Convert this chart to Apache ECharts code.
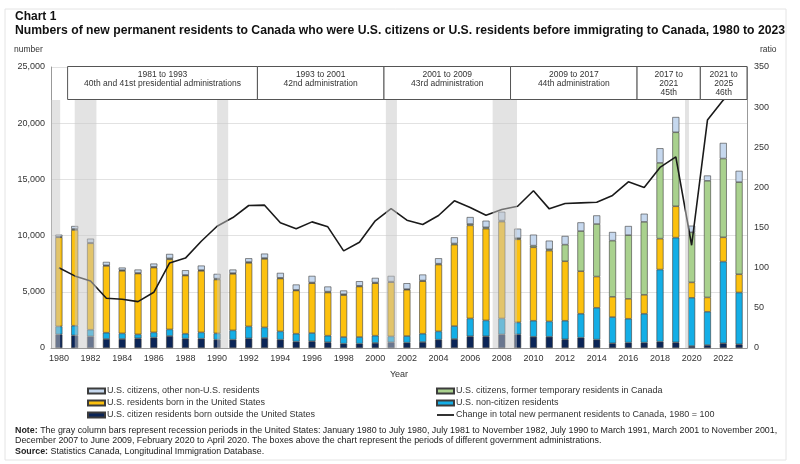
<!DOCTYPE html>
<html><head><meta charset="utf-8">
<script src="https://cdn.jsdelivr.net/npm/echarts@6/dist/echarts.min.js"></script>
<style>html,body{margin:0;padding:0;background:#fff}#c{width:800px;height:464px}</style>
</head><body><div id="c"></div>
<script>
var years = ['1980','1981','1982','1983','1984','1985','1986','1987','1988','1989','1990','1991','1992','1993','1994','1995','1996','1997','1998','1999','2000','2001','2002','2003','2004','2005','2006','2007','2008','2009','2010','2011','2012','2013','2014','2015','2016','2017','2018','2019','2020','2021','2022','2023'];
var citizensBornOutside = [1210,1120,1035,800,800,860,920,1065,830,830,740,740,860,890,740,570,600,510,384,384,450,510,473,532,740,800,1040,1040,1210,1210,1000,1000,770,917,750,420,480,480,562,503,177,260,420,330];
var nonCitizen = [712,861,591,560,501,352,470,591,441,560,561,827,1062,943,738,701,730,584,592,592,644,525,591,739,738,1151,1591,1414,1421,1067,1425,1365,1655,2129,2828,2330,2122,2566,6417,9314,4288,2963,7268,4608];
var bornInUS = [7925,8519,7688,5944,5559,5412,5766,6239,5175,5470,4790,5027,5648,6092,4702,3845,4436,3844,3726,4494,4672,4820,4116,4673,5944,7245,8280,8162,8606,7392,6535,6299,5293,3785,2780,1804,1774,1685,2749,2793,1375,1277,2159,1622];
var formerTemp = [40,90,50,50,70,50,60,80,50,70,80,70,80,80,60,50,60,80,80,60,60,50,60,60,80,100,120,120,100,100,148,118,1478,3569,4672,4997,5664,6489,6743,6581,4451,10374,7008,8196];
var otherNonUS = [196,262,364,305,226,305,295,393,424,403,423,315,334,393,443,482,591,452,334,414,413,512,526,531,482,551,619,589,786,847,975,769,769,777,768,769,812,726,1301,1360,591,473,1390,1005];
var ratio = [100,89.8,83.5,61.9,60.7,57.8,69.4,106,112,133,151.7,162.5,177.5,177.9,155.9,148.4,157.1,150.9,121,131.8,158.4,173.7,159.2,153.8,165,183.3,175,165.4,172.5,176.6,195.8,173.3,180,180.8,181.6,190,207,200,224.9,238,128,283.9,308.8,329.5];
var recessions = [[1980.0,1980.58],[1981.5,1982.87],[1990.5,1991.2],[2001.17,2001.87],[2007.92,2009.46],[2020.08,2020.33]];
var adminPeriods = [[1981.05,1993.05],[1993.05,2001.05],[2001.05,2009.05],[2009.05,2017.05],[2017.05,2021.05],[2021.05,2024]];
var adminLabels = ['1981 to 1993\n40th and 41st presidential administrations','1993 to 2001\n42nd administration','2001 to 2009\n43rd administration','2009 to 2017\n44th administration','2017 to\n2021\n45th','2021 to\n2025\n46th'];

var FONT = 'Liberation Sans, Arial, sans-serif';
var TXT = '#333';
var BOX_H = 33;
var border = {borderColor:'#3c3c3c', borderWidth:0.6};

function barSeries(name, data, color) {
  return {name:name, type:'bar', stack:'t', data:data, barWidth:7, z:2,
    itemStyle:Object.assign({color:color}, border)};
}

var chart = echarts.init(document.getElementById('c'), null, {renderer:'canvas'});
chart.setOption({
  animation:false,
  textStyle:{fontFamily:FONT},
  grid:{left:51, right:53, top:67, bottom:116, containLabel:false},
  xAxis:[{type:'category', data:years, boundaryGap:true,
      axisLine:{lineStyle:{color:'#999'}}, axisTick:{show:false},
      axisLabel:{interval:1, color:TXT, fontSize:9, margin:6, fontFamily:FONT},
      name:'Year', nameLocation:'middle', nameGap:22, nameTextStyle:{color:TXT, fontSize:9, fontFamily:FONT}},
    {type:'value', min:1980, max:2024, show:false}],
  yAxis:[{type:'value', min:0, max:25000, interval:5000,
      axisLine:{show:true, lineStyle:{color:'#999'}}, axisTick:{show:false},
      axisLabel:{color:TXT, fontSize:9, margin:6, fontFamily:FONT,
        formatter:function(v){return v.toLocaleString('en-US');}},
      splitLine:{lineStyle:{color:'#e2e2e2'}}},
    {type:'value', min:0, max:350, interval:50,
      axisLine:{show:true, lineStyle:{color:'#999'}}, axisTick:{show:false},
      axisLabel:{color:TXT, fontSize:9, margin:7, fontFamily:FONT}, splitLine:{show:false}}],
  legend:[
    {orient:'vertical', left:87, top:385, itemWidth:17, itemHeight:5, itemGap:0, padding:0, icon:'rect',
     textStyle:{fontSize:9, color:TXT, lineHeight:12, fontFamily:FONT, padding:[0,0,0,-3]},
     data:['U.S. citizens, other non-U.S. residents','U.S. residents born in the United States','U.S. citizen residents born outside the United States']},
    {orient:'vertical', left:436, top:385, itemWidth:17, itemHeight:5, itemGap:0, padding:0,
     textStyle:{fontSize:9, color:TXT, lineHeight:12, fontFamily:FONT, padding:[0,0,0,-3]},
     data:[{name:'U.S. citizens, former temporary residents in Canada', icon:'rect'},{name:'U.S. non-citizen residents', icon:'rect'},
       {name:'Change in total new permanent residents to Canada, 1980 = 100', icon:'path://M0,0H34V4H0Z', itemStyle:{color:'#333', borderWidth:0}}]}
  ],
  series:[
    barSeries('U.S. citizen residents born outside the United States', citizensBornOutside, '#0b2557'),
    barSeries('U.S. non-citizen residents', nonCitizen, '#14aee6'),
    barSeries('U.S. residents born in the United States', bornInUS, '#fcc10e'),
    barSeries('U.S. citizens, former temporary residents in Canada', formerTemp, '#a9d18e'),
    barSeries('U.S. citizens, other non-U.S. residents', otherNonUS, '#c6d8ee'),
    {name:'Change in total new permanent residents to Canada, 1980 = 100', type:'line', yAxisIndex:1, data:ratio,
      symbol:'none', showSymbol:false, z:3, lineStyle:{color:'#1a1a1a', width:1.6}, itemStyle:{color:'#1a1a1a'}},
    {type:'custom', xAxisIndex:1, yAxisIndex:0, z:4, silent:true, data:recessions,
      renderItem:function(params, api){
        var p0 = api.coord([api.value(0), 25000]);
        var p1 = api.coord([api.value(1), 0]);
        return {type:'rect', shape:{x:p0[0], y:p0[1]+BOX_H, width:Math.max(p1[0]-p0[0],3.5), height:p1[1]-p0[1]-BOX_H},
          style:{fill:'rgba(199,199,199,0.5)'}};
      }},
    {type:'custom', xAxisIndex:1, yAxisIndex:0, z:5, silent:true, data:adminPeriods,
      renderItem:function(params, api){
        var p0 = api.coord([api.value(0), 25000]);
        var p1 = api.coord([api.value(1), 25000]);
        var w = p1[0]-p0[0];
        return {type:'group', children:[
          {type:'rect', shape:{x:p0[0], y:p0[1]-0.5, width:w, height:BOX_H}, style:{fill:'#fff', stroke:'#555', lineWidth:1}},
          {type:'text', style:{text:adminLabels[params.dataIndex], x:p0[0]+w/2, y:p0[1]+2.5, align:'center', verticalAlign:'top',
            fontSize:8.5, lineHeight:9.4, fontFamily:FONT, fill:TXT}}
        ]};
      }}
  ],
  graphic:[
    {type:'rect', shape:{x:5, y:9, width:781, height:451}, style:{fill:'none', stroke:'#e4e4e4', lineWidth:1}, silent:true},
    {type:'text', style:{text:'Chart 1', x:15, y:17, verticalAlign:'middle', font:'bold 12px '+FONT, fill:'#111'}},
    {type:'text', style:{text:'Numbers of new permanent residents to Canada who were U.S. citizens or U.S. residents before immigrating to Canada, 1980 to 2023', x:15, y:31, verticalAlign:'middle', font:'bold 12.2px '+FONT, fill:'#111'}},
    {type:'text', style:{text:'number', x:14, y:50, verticalAlign:'middle', font:'8.5px '+FONT, fill:TXT}},
    {type:'text', style:{text:'ratio', x:760, y:50, verticalAlign:'middle', font:'8.5px '+FONT, fill:TXT}},
    {type:'text', style:{x:15, y:425, verticalAlign:'top', fontSize:8.9, lineHeight:10.5, fontFamily:FONT, fill:'#222',
      text:'{b|Note:} The gray column bars represent recession periods in the United States: January 1980 to July 1980, July 1981 to November 1982, July 1990 to March 1991, March 2001 to November 2001,\nDecember 2007 to June 2009, February 2020 to April 2020. The boxes above the chart represent the periods of different government administrations.\n{b|Source:} Statistics Canada, Longitudinal Immigration Database.',
      rich:{b:{fontWeight:'bold', fontSize:8.9, fontFamily:FONT, fill:'#222'}}}}
  ]
});
</script></body></html>
